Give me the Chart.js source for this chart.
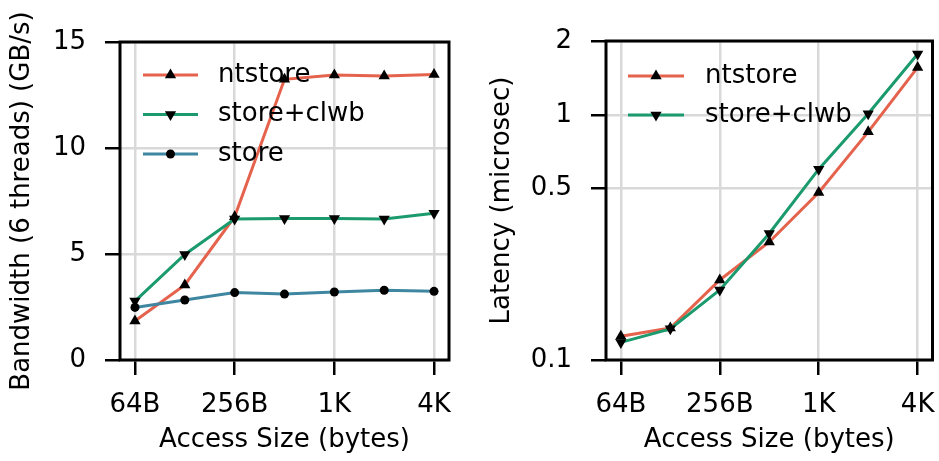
<!DOCTYPE html>
<html><head><meta charset="utf-8">
<script src="https://cdn.jsdelivr.net/npm/chart.js@4.4.0/dist/chart.umd.min.js"></script>
<style>
html,body{margin:0;padding:0;background:#fff;overflow:hidden}
#c1{position:absolute;left:0;top:0}
#c2{position:absolute;left:470px;top:0}
</style></head><body>
<canvas id="c1" width="470" height="461"></canvas>
<canvas id="c2" width="469" height="461"></canvas>
<script>
// ---- data ----
const accessSizes = [64, 128, 256, 512, 1024, 2048, 4096];
const xTickValues = [64, 256, 1024, 4096];
const xTickLabels = ['64B', '256B', '1K', '4K'];

const bwNtstore   = [1.84, 3.54, 6.76, 13.24, 13.44, 13.40, 13.47];
const bwStoreClwb = [2.78, 4.98, 6.65, 6.68, 6.68, 6.65, 6.92];
const bwStore     = [2.48, 2.83, 3.18, 3.11, 3.21, 3.29, 3.24];
const bwTicks = [0, 5, 10, 15];

const latNtstore   = [0.125, 0.135, 0.212, 0.303, 0.482, 0.852, 1.56];
const latStoreClwb = [0.118, 0.134, 0.193, 0.328, 0.60, 1.01, 1.77];
const latTicks = [0.1, 0.5, 1, 2];
const latTickLabels = ['0.1', '0.5', '1', '2'];

const seriesNames = ['ntstore', 'store+clwb', 'store'];
const colors = ['#E5624D', '#1B9A6D', '#3F87A1'];

// ---- styling ----
Chart.defaults.font.family = '"DejaVu Sans", sans-serif';
Chart.defaults.font.size = 26;
Chart.defaults.color = '#000';

const toPts = (vals) => vals.map((v, i) => ({x: accessSizes[i], y: v}));

function ds(label, vals, color, style, rot, r, order) {
  return {
    label, data: toPts(vals), borderColor: color, backgroundColor: color,
    borderWidth: 3, tension: 0, pointStyle: style, pointRotation: rot,
    pointRadius: r, pointBackgroundColor: '#000', pointBorderWidth: 0,
    pointHoverRadius: r, order
  };
}

const framePlugin = {
  id: 'frame',
  afterDraw(chart) {
    const a = chart.chartArea, c = chart.ctx;
    c.save(); c.strokeStyle = '#000'; c.lineWidth = 3;
    c.strokeRect(a.left, a.top, a.right - a.left, a.bottom - a.top);
    c.restore();
  }
};

const insideLegend = {
  id: 'insideLegend',
  afterDraw(chart, args, o) {
    const a = chart.chartArea, ctx = chart.ctx;
    chart.data.datasets.forEach((d, i) => {
      const y = a.top + o.top + i * o.spacing;
      const x0 = a.left + o.lineStart, x1 = a.left + o.lineEnd;
      ctx.save();
      ctx.strokeStyle = d.borderColor; ctx.lineWidth = d.borderWidth;
      ctx.beginPath(); ctx.moveTo(x0, y); ctx.lineTo(x1, y); ctx.stroke();
      ctx.fillStyle = '#000';
      Chart.helpers.drawPoint(ctx, {pointStyle: d.pointStyle, rotation: d.pointRotation || 0, radius: d.pointRadius, borderWidth: 0}, (x0 + x1) / 2, y);
      ctx.font = '26px "DejaVu Sans"';
      ctx.textBaseline = 'middle'; ctx.textAlign = 'left';
      ctx.fillText(d.label, a.left + o.textStart, y);
      ctx.restore();
    });
  }
};

const gridOpts = () => ({color: '#d9d9d9', lineWidth: 2.5, tickColor: '#000', tickLength: 15, tickWidth: 2.5});

function xScale() {
  return {
    type: 'logarithmic',
    min: 64 / Math.pow(2, 0.3), max: 4096 * Math.pow(2, 0.3),
    afterBuildTicks: s => { s.ticks = xTickValues.map(v => ({value: v})); },
    afterFit: s => { s.height = 101; s.paddingLeft = 0; s.paddingRight = 0; },
    ticks: {callback: v => xTickLabels[xTickValues.indexOf(v)], padding: 15, maxRotation: 0, autoSkip: false, color: '#000'},
    grid: gridOpts(),
    border: {display: false},
    title: {display: true, text: 'Access Size (bytes)', color: '#000', padding: {top: 4, bottom: 5}}
  };
}

const common = {
  responsive: false, animation: false, devicePixelRatio: 1,
  events: []
};

new Chart(document.getElementById('c1'), {
  type: 'line',
  data: {datasets: [
    ds(seriesNames[0], bwNtstore, colors[0], 'triangle', 0, 6.5, 3),
    ds(seriesNames[1], bwStoreClwb, colors[1], 'triangle', 180, 6.5, 2),
    ds(seriesNames[2], bwStore, colors[2], 'circle', 0, 4.5, 1)
  ]},
  options: Object.assign({}, common, {
    layout: {padding: {left: 0, right: 21, top: 42, bottom: 0}},
    plugins: {legend: {display: false}, tooltip: {enabled: false},
      insideLegend: {top: 33, spacing: 39.5, lineStart: 23, lineEnd: 78, textStart: 98}},
    scales: {
      x: xScale(),
      y: {
        type: 'linear', min: 0, max: 15,
        afterBuildTicks: s => { s.ticks = bwTicks.map(v => ({value: v})); },
        afterFit: s => { s.width = 120; },
        ticks: {padding: 19, color: '#000'},
        grid: gridOpts(),
        border: {display: false},
        title: {display: true, text: 'Bandwidth (6 threads) (GB/s)', color: '#000', padding: {top: 7, bottom: 0}}
      }
    }
  }),
  plugins: [insideLegend, framePlugin]
});

new Chart(document.getElementById('c2'), {
  type: 'line',
  data: {datasets: [
    ds(seriesNames[0], latNtstore, colors[0], 'triangle', 0, 6.5, 2),
    ds(seriesNames[1], latStoreClwb, colors[1], 'triangle', 180, 6.5, 1)
  ]},
  options: Object.assign({}, common, {
    layout: {padding: {left: 10, right: 4, top: 41, bottom: 0}},
    plugins: {legend: {display: false}, tooltip: {enabled: false},
      insideLegend: {top: 35, spacing: 39, lineStart: 22, lineEnd: 78, textStart: 99}},
    scales: {
      x: xScale(),
      y: {
        type: 'logarithmic', min: 0.1, max: 2,
        afterBuildTicks: s => { s.ticks = latTicks.map(v => ({value: v})); },
        afterFit: s => { s.width = 126; },
        ticks: {padding: 19, color: '#000', callback: v => latTickLabels[latTicks.indexOf(v)]},
        grid: gridOpts(),
        border: {display: false},
        title: {display: true, text: 'Latency (microsec)', color: '#000', padding: {top: 7, bottom: 0}}
      }
    }
  }),
  plugins: [insideLegend, framePlugin]
});
</script>
</body></html>
